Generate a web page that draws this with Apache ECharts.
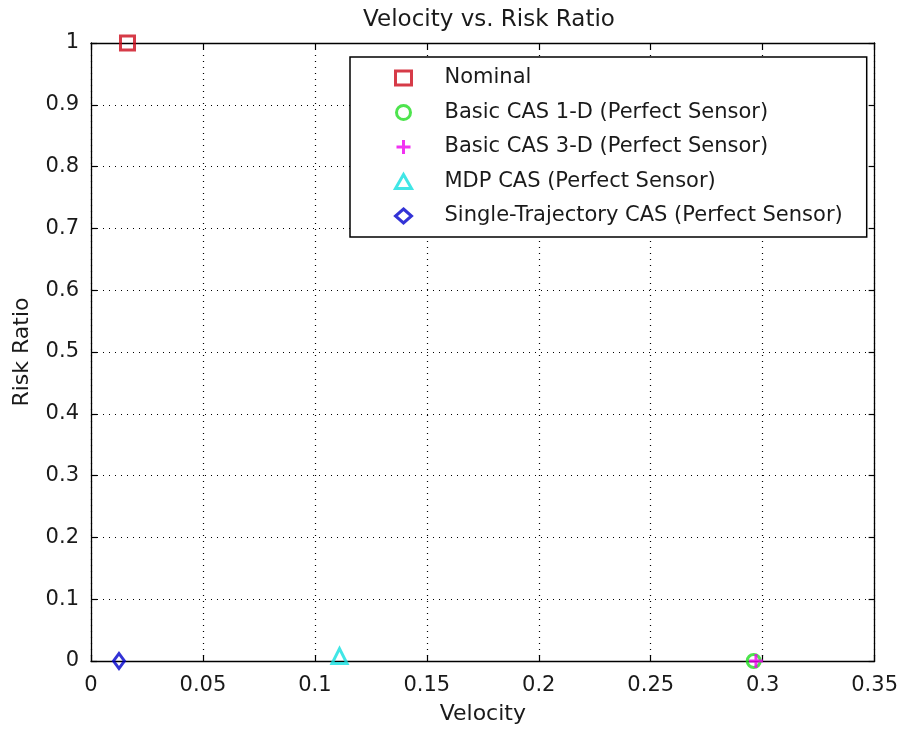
<!DOCTYPE html>
<html>
<head>
<meta charset="utf-8">
<script src="https://cdn.jsdelivr.net/npm/echarts@6/dist/echarts.min.js"></script>
<style>
  html, body { margin: 0; padding: 0; background: #fff; }
  #chart { width: 901px; height: 730px; }
</style>
</head>
<body>
<div id="chart"></div>
<script>
// Series names and their (velocity, risk ratio) points
const seriesNames = [
  'Nominal',
  'Basic CAS 1-D (Perfect Sensor)',
  'Basic CAS 3-D (Perfect Sensor)',
  'MDP CAS (Perfect Sensor)',
  'Single-Trajectory CAS (Perfect Sensor)'
];
const nominalPoints = [[0.0163, 1.0]];
const basic1DPoints = [[0.296, 0.0]];
const basic3DPoints = [[0.297, 0.0]];
const mdpPoints = [[0.111, 0.008]];
const singleTrajPoints = [[0.0125, 0.0]];

const xTicks = [0, 0.05, 0.1, 0.15, 0.2, 0.25, 0.3, 0.35];
const yTicks = [0, 0.1, 0.2, 0.3, 0.4, 0.5, 0.6, 0.7, 0.8, 0.9, 1];

const FONT = 'DejaVu Sans, Verdana, sans-serif';
const plusPath = 'path://M5,0L5,10M0,5L10,5';

function markerSeries(name, data, symbol, size, color, width) {
  return {
    name: name,
    type: 'scatter',
    data: data,
    symbol: symbol,
    symbolSize: size,
    clip: false,
    itemStyle: { color: 'rgba(0,0,0,0)', borderColor: color, borderWidth: width },
    emphasis: { disabled: true }
  };
}

function tickFormatter(ticks) {
  return v => {
    const t = ticks.find(k => Math.abs(k - v) < 1e-9);
    return t === undefined ? '' : String(t);
  };
}

const chart = echarts.init(document.getElementById('chart'), null, { renderer: 'canvas' });

const baseAxis = {
  axisLine: { show: true, onZero: false, lineStyle: { color: '#000', width: 1.3 } },
  axisTick: { show: true, inside: true, length: 6, lineStyle: { color: '#000', width: 1.2 } },
  axisLabel: { color: '#1a1a1a', fontFamily: FONT, fontSize: 21 }
};

const gridDots = { show: true, lineStyle: { color: '#000', type: [1, 5], width: 1.2 } };

chart.setOption({
  backgroundColor: '#fff',
  animation: false,
  title: {
    text: 'Velocity vs. Risk Ratio',
    left: 484, top: 4, textAlign: 'center',
    textStyle: { fontFamily: FONT, fontSize: 23, fontWeight: 'normal', color: '#1a1a1a' }
  },
  grid: { left: 91, right: 24, top: 43, bottom: 67, containLabel: false },
  legend: {
    orient: 'vertical',
    left: 350, top: 57,
    backgroundColor: '#fff',
    borderColor: '#000', borderWidth: 1.5,
    padding: [10, 24, 10, 44],
    itemWidth: 16, itemHeight: 14, itemGap: 12.5,
    selectedMode: false,
    itemStyle: { borderWidth: 3 },
    textStyle: {
      fontFamily: FONT, fontSize: 21, color: '#1a1a1a',
      lineHeight: 22, padding: [0, 0, 0, 28]
    },
    data: seriesNames
  },
  xAxis: [
    Object.assign({}, baseAxis, {
      type: 'value', min: 0, max: 0.35, interval: 0.05, position: 'bottom',
      name: 'Velocity', nameLocation: 'middle', nameGap: 42,
      nameTextStyle: { fontFamily: FONT, fontSize: 22, color: '#1a1a1a' },
      axisLabel: Object.assign({}, baseAxis.axisLabel, { margin: 14, formatter: tickFormatter(xTicks) }),
      splitLine: gridDots
    }),
    Object.assign({}, baseAxis, {
      type: 'value', min: 0, max: 0.35, interval: 0.05, position: 'top',
      axisLabel: { show: false }, splitLine: { show: false }
    })
  ],
  yAxis: [
    Object.assign({}, baseAxis, {
      type: 'value', min: 0, max: 1, interval: 0.1, position: 'left',
      name: 'Risk Ratio', nameLocation: 'middle', nameGap: 58, nameRotate: 90,
      nameTextStyle: { fontFamily: FONT, fontSize: 22, color: '#1a1a1a' },
      axisLabel: Object.assign({}, baseAxis.axisLabel, { margin: 12, formatter: tickFormatter(yTicks) }),
      splitLine: gridDots
    }),
    Object.assign({}, baseAxis, {
      type: 'value', min: 0, max: 1, interval: 0.1, position: 'right',
      axisLabel: { show: false }, splitLine: { show: false }
    })
  ],
  series: [
    markerSeries(seriesNames[0], nominalPoints, 'rect', 14, '#cc0a1a', 3),
    markerSeries(seriesNames[1], basic1DPoints, 'circle', 13, '#22dd22', 3),
    markerSeries(seriesNames[2], basic3DPoints, plusPath, 14, '#ee00ee', 3),
    markerSeries(seriesNames[3], mdpPoints, 'triangle', 15, '#11e0e0', 3),
    markerSeries(seriesNames[4], singleTrajPoints, 'diamond', [11, 15], '#0000cc', 3)
  ]
});
</script>
</body>
</html>
